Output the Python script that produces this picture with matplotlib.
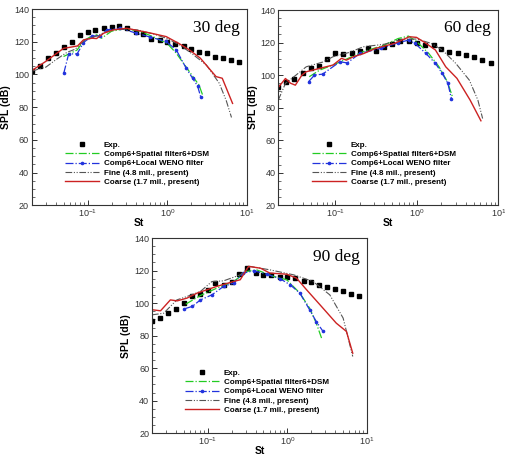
import matplotlib
matplotlib.use("Agg")
import matplotlib.pyplot as plt
from matplotlib.ticker import MultipleLocator, LogLocator, NullFormatter

plt.rcParams['font.family'] = ['Liberation Sans', 'DejaVu Sans']
plt.rcParams['mathtext.default'] = 'regular'

# Experimental 1/3-octave St values (shared by all angles)
st_exp = [0.02, 0.025, 0.0315, 0.04, 0.05, 0.063, 0.08, 0.1, 0.125, 0.16, 0.2, 0.25,
          0.315, 0.4, 0.5, 0.63, 0.8, 1.0, 1.25, 1.6, 2.0, 2.5, 3.15, 4.0, 5.0, 6.3, 8.0]

# ---- 30 deg ----
exp30 = [102.4, 105.4, 110.3, 113.0, 116.7, 120.0, 124.3, 125.9, 127.5, 128.5, 129.0, 129.4,
         128.3, 126.3, 124.5, 122.0, 121.2, 120.0, 118.7, 117.3, 115.5, 114.0, 113.4, 111.0,
         110.1, 108.7, 107.5]
green30_x = [0.05, 0.058, 0.074, 0.09, 0.113, 0.13, 0.15, 0.2, 0.3, 0.45, 0.66, 1.0, 1.3, 1.73, 2.1, 2.5, 2.8]
green30_y = [111.0, 112.5, 115.0, 120.8, 123.5, 124.3, 122.2, 126.5, 128.0, 126.5, 123.2, 119.0,
             113.0, 104.5, 98.7, 93.6, 87.0]
blue30_x = [0.0503, 0.058, 0.074, 0.089, 0.113, 0.143, 0.174, 0.255, 0.41, 0.6, 0.97, 1.3,
            1.73, 2.08, 2.4, 2.64]
blue30_y = [100.7, 112.6, 112.6, 119.5, 123.6, 123.6, 127.3, 128.3, 125.3, 123.0, 120.2, 115.0,
            103.8, 97.7, 93.0, 86.0]
fine30_x = [0.02, 0.025, 0.03, 0.04, 0.055, 0.07, 0.09, 0.12, 0.16, 0.21, 0.31, 0.45, 0.7,
            1.0, 1.5, 2.2, 3.1, 4.5, 5.5, 6.4]
fine30_y = [102.0, 103.5, 104.5, 109.0, 113.5, 115.5, 120.5, 123.0, 125.5, 127.5, 128.0, 127.0,
            124.5, 122.0, 117.5, 111.5, 105.8, 94.6, 84.0, 73.7]
coarse30_x = [0.02, 0.0297, 0.05, 0.061, 0.075, 0.089, 0.113, 0.13, 0.16, 0.21, 0.31, 0.39,
              0.6, 0.97, 1.4, 1.9, 2.6, 4.1, 4.9, 6.6]
coarse30_y = [102.4, 107.9, 116.0, 116.7, 117.5, 121.2, 122.2, 122.0, 125.3, 127.3, 128.3, 127.3,
              125.5, 123.2, 119.0, 115.0, 110.0, 98.7, 97.7, 82.3]

# ---- 60 deg ----
exp60 = [92.8, 95.7, 97.7, 101.2, 104.3, 105.7, 109.8, 113.7, 112.7, 113.7, 115.0, 116.4,
         114.8, 117.4, 118.9, 121.1, 120.7, 119.5, 118.3, 118.3, 116.2, 114.4, 113.3, 112.1,
         111.1, 109.0, 107.2]
green60_x = [0.048, 0.064, 0.104, 0.22, 0.4, 0.59, 0.79, 1.0, 1.4, 1.87, 2.37, 2.73]
green60_y = [99.0, 103.0, 107.2, 114.4, 118.5, 122.5, 124.0, 120.5, 113.3, 105.1, 95.9, 86.7]
blue60_x = [0.047, 0.0556, 0.07, 0.114, 0.14, 0.2, 0.36, 0.59, 0.79, 0.95, 1.29, 1.69, 2.05,
            2.4, 2.65]
blue60_y = [95.9, 100.0, 100.6, 108.2, 107.5, 113.3, 116.4, 119.9, 121.5, 119.5, 113.3, 107.2,
            101.0, 94.9, 85.6]
fine60_x = [0.02, 0.0245, 0.033, 0.044, 0.07, 0.094, 0.15, 0.22, 0.4, 0.65, 1.0, 1.5, 2.05,
            3.0, 4.4, 5.6, 6.4]
fine60_y = [84.6, 94.9, 100.0, 105.1, 108.0, 111.3, 114.0, 117.4, 119.0, 122.0, 122.2, 119.5,
            115.4, 107.2, 96.9, 84.6, 73.3]
coarse60_x = [0.02, 0.0245, 0.0283, 0.0324, 0.039, 0.0437, 0.064, 0.094, 0.119, 0.137, 0.167,
              0.224, 0.31, 0.534, 0.81, 0.99, 1.3, 1.69, 2.26, 3.1, 4.5, 6.1]
coarse60_y = [92.4, 97.9, 95.0, 93.8, 100.0, 102.0, 104.1, 106.2, 110.3, 109.2, 111.3, 113.3,
              116.4, 119.5, 123.6, 123.2, 119.5, 115.4, 105.1, 98.0, 84.6, 71.9]

# ---- 90 deg ----
exp90 = [88.9, 90.8, 93.8, 96.5, 99.8, 104.1, 105.5, 108.0, 112.5, 111.3, 113.3, 118.0,
         121.9, 118.3, 117.4, 117.4, 115.8, 115.8, 115.4, 113.9, 112.9, 111.3, 110.1, 109.0,
         107.2, 105.5, 104.5]
green90_x = [0.053, 0.081, 0.13, 0.211, 0.31, 0.41, 0.67, 0.98, 1.43, 1.9, 2.3, 2.68]
green90_y = [99.4, 104.7, 109.2, 113.3, 119.5, 120.5, 116.4, 114.4, 106.2, 96.9, 87.7, 78.5]
blue90_x = [0.051, 0.064, 0.081, 0.113, 0.158, 0.211, 0.28, 0.38, 0.55, 0.81, 1.08, 1.43,
            1.9, 2.3, 2.8]
blue90_y = [96.5, 98.0, 102.0, 105.1, 110.3, 112.3, 118.5, 119.9, 117.8, 115.0, 111.3, 106.2,
            95.9, 88.7, 82.6]
fine90_x = [0.02, 0.028, 0.041, 0.055, 0.081, 0.113, 0.158, 0.256, 0.34, 0.6, 1.2, 2.1, 3.4,
            5.0, 6.6]
fine90_y = [92.8, 93.8, 102.0, 104.1, 107.2, 113.3, 113.7, 117.4, 122.6, 120.5, 117.4, 113.3,
            105.1, 90.8, 67.2]
coarse90_x = [0.0204, 0.0256, 0.034, 0.0414, 0.055, 0.074, 0.13, 0.211, 0.256, 0.325, 0.46,
              0.6, 0.98, 1.3, 1.74, 2.56, 4.1, 5.5, 6.6]
coarse90_y = [95.9, 95.3, 102.0, 101.4, 103.1, 106.2, 110.3, 113.3, 114.4, 122.6, 121.5, 118.5,
              117.8, 115.4, 108.2, 99.0, 87.7, 82.6, 69.2]

panels = [
    ("30 deg", [0.063, 0.551, 0.426, 0.429], exp30, green30_x, green30_y, blue30_x, blue30_y,
     fine30_x, fine30_y, coarse30_x, coarse30_y),
    ("60 deg", [0.551, 0.551, 0.436, 0.427], exp60, green60_x, green60_y, blue60_x, blue60_y,
     fine60_x, fine60_y, coarse60_x, coarse60_y),
    ("90 deg", [0.301, 0.052, 0.426, 0.427], exp90, green90_x, green90_y, blue90_x, blue90_y,
     fine90_x, fine90_y, coarse90_x, coarse90_y),
]

fig = plt.figure(figsize=(5.05, 4.57), dpi=100)

for (title, rect, ex, gx, gy, bx, by, fx, fy, cx, cy) in panels:
    ax = fig.add_axes(rect)
    ax.plot(st_exp, ex, 's', color='black', ms=3.4, label='Exp.')
    ax.plot(gx, gy, '-.', color='#22cc22', lw=0.9, label='Comp6+Spatial filter6+DSM')
    ax.plot(bx, by, '-.', color='#2233dd', lw=0.9, marker='o', ms=1.6,
            label='Comp6+Local WENO filter')
    ax.plot(fx, fy, '-.', color='#555555', lw=0.8, dashes=(6, 1.5, 1, 1.5, 1, 1.5),
            label='Fine (4.8 mil., present)')
    ax.plot(cx, cy, '-', color='#cc2222', lw=1.0, label='Coarse (1.7 mil., present)')

    ax.set_xscale('log')
    ax.set_xlim(0.02, 10)
    ax.set_ylim(20, 140)
    ax.yaxis.set_major_locator(MultipleLocator(20))
    ax.yaxis.set_minor_locator(MultipleLocator(5))
    ax.xaxis.set_major_locator(LogLocator(base=10, numticks=5))
    ax.xaxis.set_minor_locator(LogLocator(base=10, subs=range(2, 10), numticks=20))
    ax.xaxis.set_minor_formatter(NullFormatter())
    ax.tick_params(which='both', direction='in', top=False, right=False,
                   labelsize=6.5, colors='#333333')
    ax.tick_params(axis='x', which='major', pad=1.5)
    ax.tick_params(axis='y', which='major', pad=2)
    ax.tick_params(which='major', length=3.5, width=0.7)
    ax.tick_params(which='minor', length=2, width=0.5)
    for s in ax.spines.values():
        s.set_linewidth(0.8)
        s.set_color('#333333')

    ax.set_xlabel('St', fontsize=7.5, fontweight='bold', labelpad=-1)
    ax.set_ylabel('SPL (dB)', fontsize=7.5, fontweight='bold', labelpad=2)
    ax.text(0.965, 0.885, title, transform=ax.transAxes, ha='right', va='baseline',
            fontsize=12.5, family='Liberation Serif')
    ax.legend(loc='lower left', bbox_to_anchor=(0.12, 0.06), frameon=False,
              handlelength=4.2, handletextpad=0.6, labelspacing=0.22,
              prop={'weight': 'bold', 'size': 5.8})

fig.savefig("out.png", dpi=100)
